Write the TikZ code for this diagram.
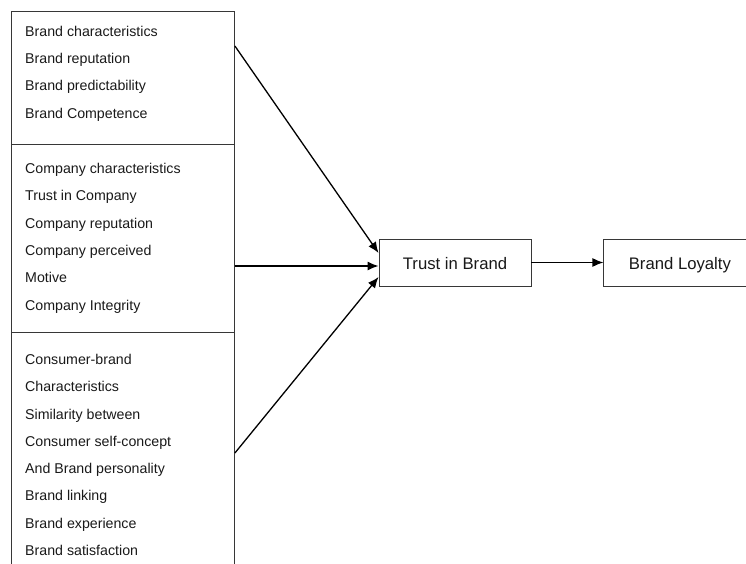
\documentclass[tikz,border=0pt]{standalone}
\usepackage{fontspec}
\setmainfont{Liberation Sans}
\usetikzlibrary{positioning,arrows.meta}
\definecolor{boxgray}{RGB}{55,55,55}
\definecolor{inkgray}{RGB}{25,25,25}

\begin{document}
\begin{tikzpicture}[x=1pt,y=-1pt,
    box/.style={draw=boxgray, line width=0.9pt, inner sep=0pt, minimum width=223pt, anchor=north west},
    factors/.style={anchor=north west, align=left, inner sep=0pt, text=inkgray, font=\fontsize{14.2}{27.3}\selectfont},
    result/.style={draw=boxgray, line width=0.9pt, minimum width=152pt, minimum height=47pt, inner sep=0pt,
        text height=14.5pt, text depth=1.2pt, text=inkgray, font=\fontsize{16.7}{20}\selectfont},
    link/.style={-{Latex[length=11pt,width=9pt]}, line width=1.3pt}]
    \clip (0,0) rectangle (746,564);
    % left column of antecedents
    \node[box, minimum height=133pt] (brandbox) at (11,11) {};
    \node[box, minimum height=188pt] (companybox) at (11,144) {};
    \node[box, minimum height=280pt] (consumerbox) at (11,332) {};
    \node[factors] (brandlist) at (25,25.8) {Brand characteristics\\Brand reputation\\Brand predictability\\Brand Competence};
    \node[factors] (companylist) at (25,163.2) {Company characteristics\\Trust in Company\\Company reputation\\Company perceived\\Motive\\Company Integrity};
    \node[factors] (consumerlist) at (25,354) {Consumer-brand\\Characteristics\\Similarity between\\Consumer self-concept\\And Brand personality\\Brand linking\\Brand experience\\Brand satisfaction};
    % outcomes
    \node[result] (trust) at (455,262.5) {Trust in Brand};
    \node[result, right=72pt of trust] (loyalty) {Brand Loyalty};
    \draw[link] ([yshift=-35pt]brandbox.north east) -- ([yshift=9.5pt]trust.west);
    \draw[link] ([yshift=-122pt]companybox.north east) -- ([yshift=-3.5pt]trust.west);
    \draw[link] ([yshift=-121pt]consumerbox.north east) -- ([yshift=-14.5pt]trust.west);
    \draw[link] (trust) -- (loyalty);
\end{tikzpicture}
\end{document}
